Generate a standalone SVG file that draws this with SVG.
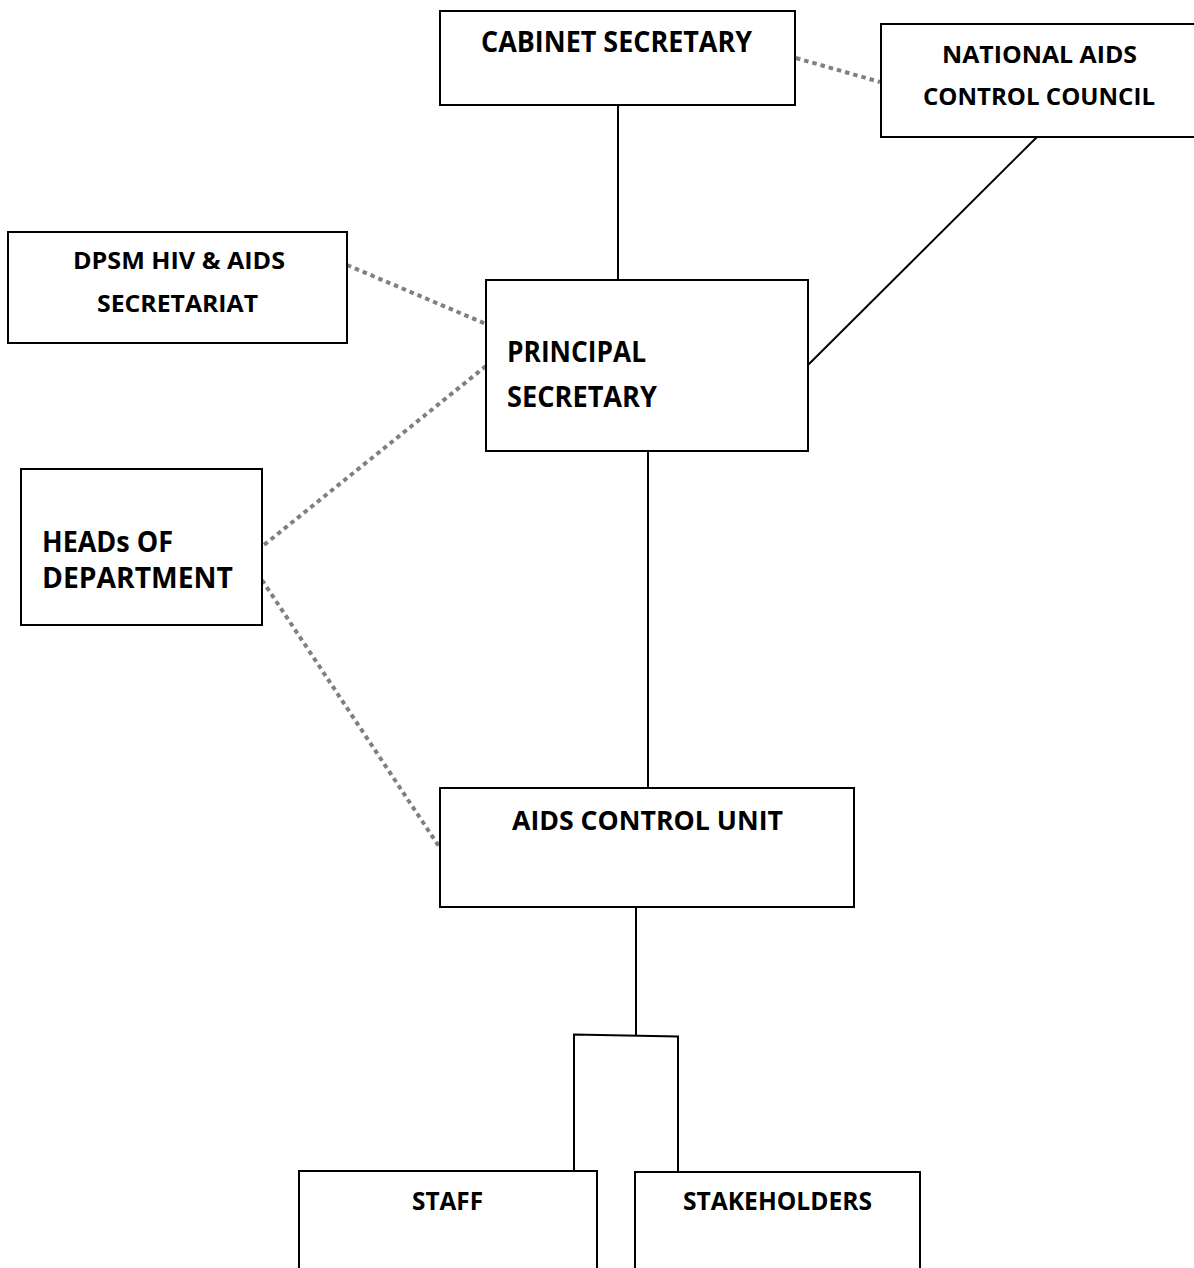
<svg xmlns="http://www.w3.org/2000/svg" width="1194" height="1268" viewBox="0 0 1194 1268">
<style>
.box{fill:#fff;stroke:#000;stroke-width:2}
.t{font-family:"Open Sans",Lato,"Liberation Sans",sans-serif;font-weight:bold;fill:#000}
.solid{stroke:#000;stroke-width:2;fill:none}
.dot{stroke:#808080;stroke-width:4;stroke-dasharray:4.5 4;fill:none}
</style>
<rect width="1194" height="1268" fill="#fff"/>
<g id="connectors">
<line class="solid" x1="618" y1="106" x2="618" y2="280"/>
<line class="solid" x1="1037" y1="137" x2="808" y2="365"/>
<line class="solid" x1="648" y1="451" x2="648" y2="788"/>
<line class="solid" x1="636" y1="907" x2="636" y2="1035"/>
<polyline class="solid" points="574,1171 574,1034.5 678,1036.5 678,1171"/>
<line class="dot" x1="796" y1="58" x2="880" y2="82"/>
<line class="dot" x1="347" y1="265" x2="486" y2="324"/>
<line class="dot" x1="486" y1="366" x2="264" y2="545"/>
<line class="dot" x1="262" y1="580" x2="440" y2="848"/>
</g>
<g id="cabinet-secretary">
<rect class="box" x="440" y="11" width="355" height="94"/>
<text class="t" x="481" y="52" font-size="28" textLength="271" lengthAdjust="spacingAndGlyphs">CABINET SECRETARY</text>
</g>
<g id="national-aids-control-council">
<rect class="box" x="881" y="24" width="320" height="113"/>
<text class="t" x="942" y="63" font-size="23" textLength="195" lengthAdjust="spacingAndGlyphs">NATIONAL AIDS</text>
<text class="t" x="923" y="105" font-size="23" textLength="232" lengthAdjust="spacingAndGlyphs">CONTROL COUNCIL</text>
</g>
<g id="dpsm-secretariat">
<rect class="box" x="8" y="232" width="339" height="111"/>
<text class="t" x="73" y="269" font-size="24" textLength="212" lengthAdjust="spacingAndGlyphs">DPSM HIV &amp; AIDS</text>
<text class="t" x="97" y="312" font-size="24" textLength="161" lengthAdjust="spacingAndGlyphs">SECRETARIAT</text>
</g>
<g id="principal-secretary">
<rect class="box" x="486" y="280" width="322" height="171"/>
<text class="t" x="507" y="362" font-size="28" textLength="139" lengthAdjust="spacingAndGlyphs">PRINCIPAL</text>
<text class="t" x="507" y="407" font-size="28" textLength="150" lengthAdjust="spacingAndGlyphs">SECRETARY</text>
</g>
<g id="heads-of-department">
<rect class="box" x="21" y="469" width="241" height="156"/>
<text class="t" x="42" y="552" font-size="28" textLength="131" lengthAdjust="spacingAndGlyphs">HEADs OF</text>
<text class="t" x="42" y="588" font-size="28" textLength="191" lengthAdjust="spacingAndGlyphs">DEPARTMENT</text>
</g>
<g id="aids-control-unit">
<rect class="box" x="440" y="788" width="414" height="119"/>
<text class="t" x="512" y="830" font-size="26.5" textLength="271" lengthAdjust="spacingAndGlyphs">AIDS CONTROL UNIT</text>
</g>
<g id="staff">
<rect class="box" x="299" y="1171" width="298" height="120"/>
<text class="t" x="412" y="1210" font-size="25" textLength="71" lengthAdjust="spacingAndGlyphs">STAFF</text>
</g>
<g id="stakeholders">
<rect class="box" x="635" y="1172" width="285" height="120"/>
<text class="t" x="683" y="1210" font-size="25" textLength="189" lengthAdjust="spacingAndGlyphs">STAKEHOLDERS</text>
</g>
</svg>
